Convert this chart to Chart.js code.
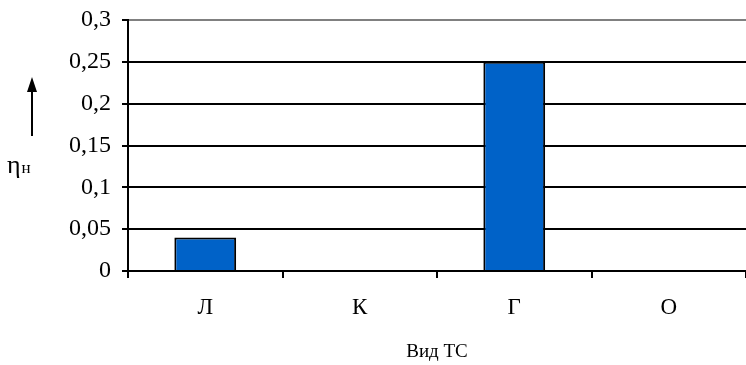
<!DOCTYPE html>
<html>
<head>
<meta charset="utf-8">
<script src="https://cdn.jsdelivr.net/npm/chart.js@4/dist/chart.umd.min.js"></script>
<style>
  html, body { margin: 0; padding: 0; background: #fff; }
  #wrap { width: 746px; height: 365px; }
</style>
</head>
<body>
<div id="wrap"><canvas id="grafik"></canvas></div>
<script>
const categories = ['Л', 'К', 'Г', 'О'];
const etaValues = [0.04, 0, 0.25, 0];
const yTicks = [0, 0.05, 0.1, 0.15, 0.2, 0.25, 0.3];

const serif = '"Liberation Serif", "Times New Roman", serif';

// подпись оси Y: стрелка и ηн
const etaLabel = {
    id: 'etaLabel',
    afterDraw(chart) {
        const c = chart.ctx;
        c.save();
        c.strokeStyle = '#000';
        c.fillStyle = '#000';
        c.lineWidth = 2;
        c.beginPath();
        c.moveTo(32, 136);
        c.lineTo(32, 90);
        c.stroke();
        c.beginPath();
        c.moveTo(32, 77);
        c.lineTo(27, 92);
        c.lineTo(37, 92);
        c.closePath();
        c.fill();
        c.textBaseline = 'alphabetic';
        c.textAlign = 'left';
        c.font = '26px ' + serif;
        c.fillText('η', 7, 173);
        const w = c.measureText('η').width;
        c.font = '17px ' + serif;
        c.fillText('н', 7 + w + 1, 173);
        c.restore();
    }
};

const data = {
    labels: categories,
    datasets: [{
        data: etaValues,
        backgroundColor: '#0062C8',
        borderColor: '#000',
        borderWidth: 2,
        barPercentage: 0.8,
        categoryPercentage: 0.5
    }]
};

const config = {
    type: 'bar',
    data: data,
    options: {
        responsive: true,
        maintainAspectRatio: false,
        animation: false,
        layout: { padding: { top: 2, right: 0, left: 0, bottom: 0 } },
        plugins: {
            legend: { display: false },
            tooltip: { enabled: false }
        },
        scales: {
            x: {
                afterFit(scale) { scale.height = 94; },
                grid: {
                    drawOnChartArea: false,
                    drawTicks: true,
                    tickLength: 7,
                    offset: true,
                    color: '#000',
                    lineWidth: 2
                },
                border: { color: '#000', width: 2 },
                ticks: {
                    color: '#000',
                    padding: 16,
                    font: { family: serif, size: 23 }
                },
                title: {
                    display: true,
                    text: 'Вид ТС',
                    color: '#000',
                    font: { family: serif, size: 19 },
                    padding: { top: 0, bottom: 2 }
                }
            },
            y: {
                min: 0,
                max: 0.3,
                afterBuildTicks(scale) {
                    scale.ticks = yTicks.map(v => ({ value: v }));
                },
                afterFit(scale) {
                    scale.width = 128;
                    scale.paddingTop = 20;
                },
                grid: {
                    color: ctx => (ctx.tick && ctx.tick.value === 0.3 ? '#808080' : '#000'),
                    tickColor: '#000',
                    lineWidth: 2,
                    tickLength: 6
                },
                border: { color: '#000', width: 2 },
                ticks: {
                    color: '#000',
                    padding: 11,
                    font: { family: serif, size: 24 },
                    callback: v => String(Math.round(v * 100) / 100).replace('.', ',')
                }
            }
        }
    },
    plugins: [etaLabel]
};

const grafik = new Chart(document.getElementById('grafik').getContext('2d'), config);
</script>
</body>
</html>
